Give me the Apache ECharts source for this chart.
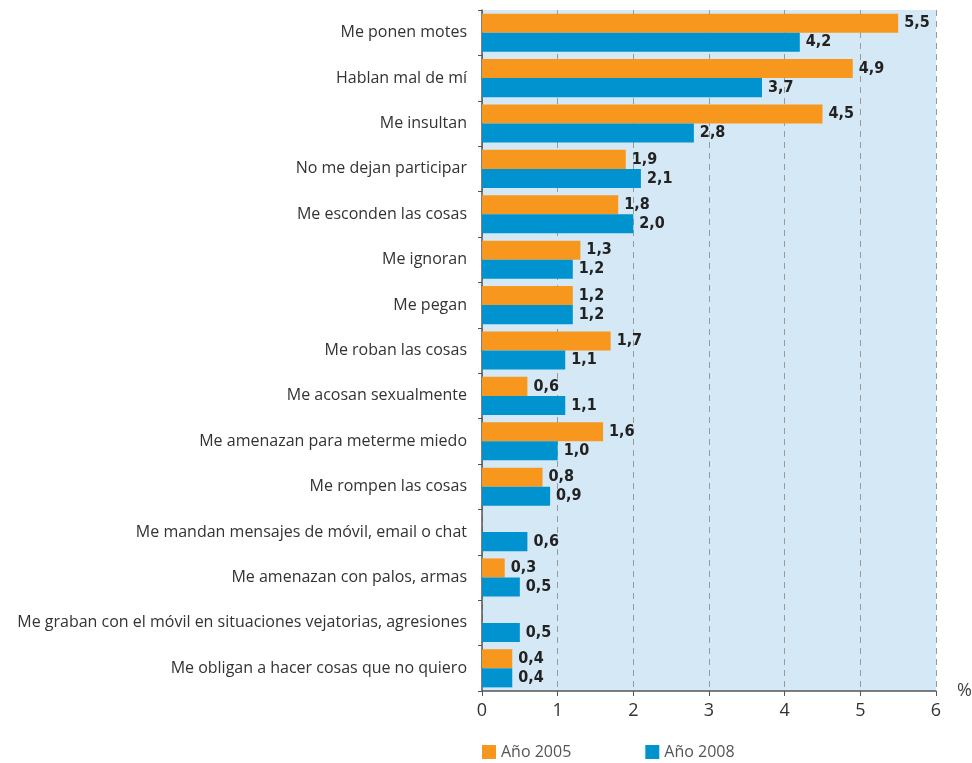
<!DOCTYPE html>
<html>
<head>
<meta charset="utf-8">
<script src="https://cdn.jsdelivr.net/npm/echarts@6/dist/echarts.min.js"></script>
<style>
  html, body { margin: 0; padding: 0; background: #fff; }
  #chart { width: 972px; height: 763px; }
</style>
</head>
<body>
<div id="chart"></div>
<script>
// Situaciones de maltrato declaradas por el alumnado (%)
const categories = [
  'Me ponen motes',
  'Hablan mal de mí',
  'Me insultan',
  'No me dejan participar',
  'Me esconden las cosas',
  'Me ignoran',
  'Me pegan',
  'Me roban las cosas',
  'Me acosan sexualmente',
  'Me amenazan para meterme miedo',
  'Me rompen las cosas',
  'Me mandan mensajes de móvil, email o chat',
  'Me amenazan con palos, armas',
  'Me graban con el móvil en situaciones vejatorias, agresiones',
  'Me obligan a hacer cosas que no quiero'
];
const values2005 = [5.5, 4.9, 4.5, 1.9, 1.8, 1.3, 1.2, 1.7, 0.6, 1.6, 0.8, null, 0.3, null, 0.4];
const values2008 = [4.2, 3.7, 2.8, 2.1, 2.0, 1.2, 1.2, 1.1, 1.1, 1.0, 0.9, 0.6, 0.5, 0.5, 0.4];
const xTicks = [0, 1, 2, 3, 4, 5, 6];

const chart = echarts.init(document.getElementById('chart'));

const valueLabel = {
  show: true,
  position: 'right',
  distance: 6,
  fontFamily: '"DejaVu Sans Condensed", "DejaVu Sans", sans-serif',
  fontWeight: 'bold',
  fontSize: 16,
  color: '#222',
  formatter: p => (p.value == null ? '' : p.value.toFixed(1).replace('.', ','))
};

chart.setOption({
  animation: false,
  textStyle: { fontFamily: '"Open Sans", sans-serif' },
  grid: {
    left: 482, right: 36, top: 10, bottom: 72,
    outerBoundsMode: 'none',
    show: true, backgroundColor: '#d4e8f5', borderWidth: 0
  },
  legend: {
    left: 482, bottom: 3, padding: 0,
    itemWidth: 14, itemHeight: 14, itemGap: 74,
    icon: 'rect',
    textStyle: { fontSize: 16, color: '#555', fontFamily: '"Open Sans", sans-serif' },
    data: ['Año 2005', 'Año 2008']
  },
  xAxis: {
    type: 'value',
    min: xTicks[0], max: xTicks[xTicks.length - 1], interval: 1,
    name: '%',
    nameLocation: 'end',
    nameGap: 21,
    nameTextStyle: { fontSize: 18, color: '#444', verticalAlign: 'middle', padding: [0, 0, 6, 0] },
    axisLine: { show: true, lineStyle: { color: '#555', width: 1.5 } },
    axisTick: { show: true, length: 5, lineStyle: { color: '#555' } },
    axisLabel: { fontSize: 18, color: '#333', margin: 11 },
    splitLine: { show: true, lineStyle: { color: '#9a9a9a', type: [6, 5], width: 1 } }
  },
  yAxis: {
    type: 'category',
    inverse: true,
    data: categories,
    axisLine: { show: true, lineStyle: { color: '#555', width: 1.5 } },
    axisTick: { show: true, length: 4, lineStyle: { color: '#555' } },
    axisLabel: { fontSize: 16, color: '#333', margin: 15 }
  },
  series: [
    {
      name: 'Año 2005', type: 'bar', data: values2005,
      itemStyle: { color: '#f7971e' },
      barGap: '0%', barCategoryGap: '16%',
      label: valueLabel
    },
    {
      name: 'Año 2008', type: 'bar', data: values2008,
      itemStyle: { color: '#0093d0' },
      barGap: '0%', barCategoryGap: '16%',
      label: valueLabel
    }
  ]
});
</script>
</body>
</html>
